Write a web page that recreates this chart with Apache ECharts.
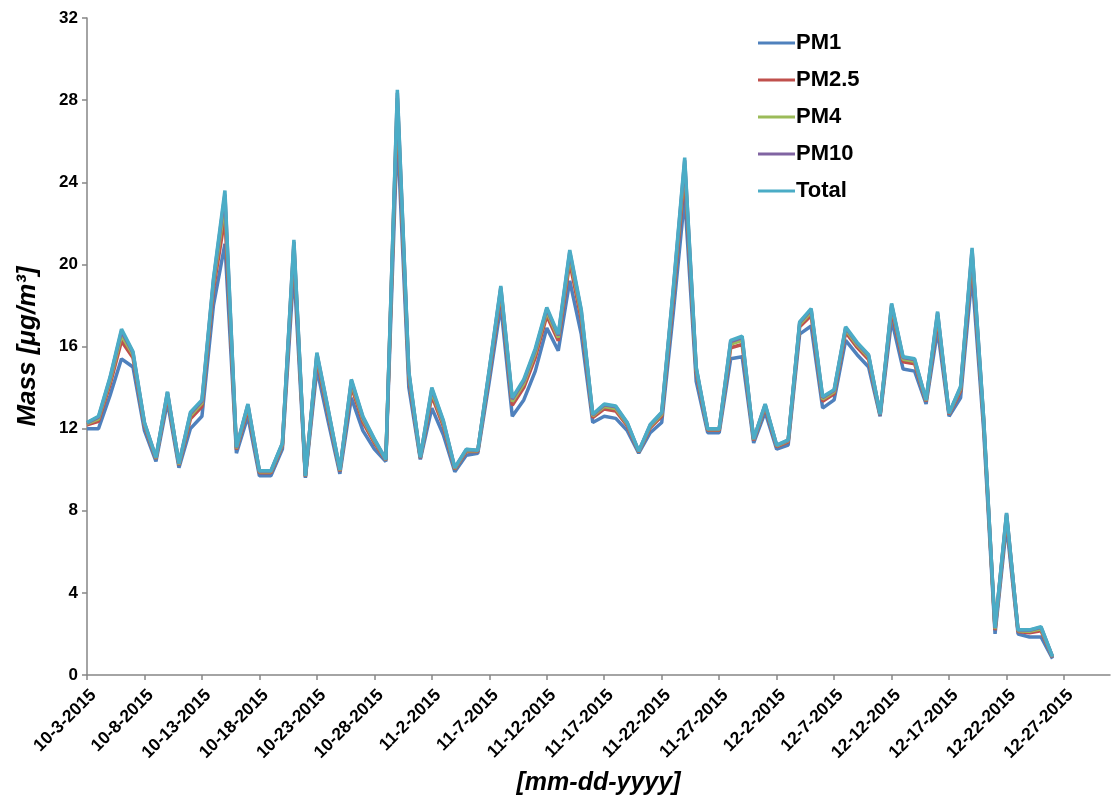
<!DOCTYPE html>
<html>
<head>
<meta charset="utf-8">
<script src="https://cdn.jsdelivr.net/npm/echarts@6/dist/echarts.min.js"></script>
<style>
html,body{margin:0;padding:0;background:#fff;}
#chart{width:1112px;height:798px;}
</style>
</head>
<body>
<div id="chart"></div>
<script>
// Categories: daily dates (axis runs to 12-31-2015; data ends 12-26-2015)
var dates = [
"10-3-2015","10-4-2015","10-5-2015","10-6-2015","10-7-2015","10-8-2015","10-9-2015","10-10-2015","10-11-2015","10-12-2015",
"10-13-2015","10-14-2015","10-15-2015","10-16-2015","10-17-2015","10-18-2015","10-19-2015","10-20-2015","10-21-2015","10-22-2015",
"10-23-2015","10-24-2015","10-25-2015","10-26-2015","10-27-2015","10-28-2015","10-29-2015","10-30-2015","10-31-2015",
"11-1-2015","11-2-2015","11-3-2015","11-4-2015","11-5-2015","11-6-2015","11-7-2015","11-8-2015","11-9-2015","11-10-2015",
"11-11-2015","11-12-2015","11-13-2015","11-14-2015","11-15-2015","11-16-2015","11-17-2015","11-18-2015","11-19-2015","11-20-2015",
"11-21-2015","11-22-2015","11-23-2015","11-24-2015","11-25-2015","11-26-2015","11-27-2015","11-28-2015","11-29-2015","11-30-2015",
"12-1-2015","12-2-2015","12-3-2015","12-4-2015","12-5-2015","12-6-2015","12-7-2015","12-8-2015","12-9-2015","12-10-2015",
"12-11-2015","12-12-2015","12-13-2015","12-14-2015","12-15-2015","12-16-2015","12-17-2015","12-18-2015","12-19-2015","12-20-2015",
"12-21-2015","12-22-2015","12-23-2015","12-24-2015","12-25-2015","12-26-2015","12-27-2015","12-28-2015","12-29-2015","12-30-2015",
"12-31-2015"
];

var pm1 = [
12.0,12.0,13.6,15.4,15.0,11.9,10.4,13.3,10.1,12.0,
12.6,18.0,21.0,10.8,12.6,9.7,9.7,11.0,19.8,9.6,
14.9,12.3,9.8,13.5,11.9,11.0,10.4,26.5,14.0,10.5,
13.0,11.7,9.9,10.7,10.8,14.3,18.0,12.6,13.4,14.8,
16.9,15.8,19.2,16.6,12.3,12.6,12.5,11.9,10.8,11.8,
12.3,17.6,23.3,14.3,11.8,11.8,15.4,15.5,11.3,12.8,
11.0,11.2,16.6,17.0,13.0,13.4,16.3,15.6,15.0,12.6,
17.3,14.9,14.8,13.2,16.8,12.6,13.5,19.5,12.0,2.0,
7.3,2.0,1.85,1.85,0.8
];

var pm25 = [
12.18,12.36,14.14,16.27,15.45,12.14,10.52,13.6,10.22,12.48,
13.08,18.78,22.3,10.98,12.96,9.85,9.85,11.18,20.64,9.66,
15.38,12.66,9.92,14.04,12.32,11.3,10.46,27.7,14.48,10.56,
13.6,12.12,10.02,10.88,10.89,14.66,18.57,13.14,14.0,15.46,
17.5,16.28,20.1,17.32,12.54,12.96,12.86,12.14,10.86,12.04,
12.6,18.32,24.44,14.72,11.92,11.92,15.94,16.1,11.42,13.04,
11.12,11.35,16.96,17.51,13.33,13.7,16.7,15.96,15.36,12.66,
17.78,15.26,15.16,13.32,17.34,12.69,13.83,20.28,12.36,2.18,
7.66,2.12,2.06,2.15,0.86
];

var pm4 = [
12.24,12.48,14.32,16.56,15.6,12.22,10.56,13.7,10.26,12.64,
13.24,19.04,23.0,11.04,13.08,9.9,9.9,11.24,20.92,9.68,
15.54,12.78,9.96,14.22,12.46,11.4,10.48,28.1,14.64,10.58,
13.8,12.26,10.06,10.94,10.92,14.78,18.76,13.32,14.2,15.68,
17.7,16.44,20.4,17.56,12.62,13.08,12.98,12.22,10.88,12.12,
12.7,18.56,24.82,14.86,11.96,11.96,16.12,16.3,11.46,13.12,
11.16,11.4,17.08,17.68,13.44,13.8,16.83,16.08,15.48,12.68,
17.94,15.38,15.28,13.36,17.52,12.72,13.94,20.54,12.48,2.24,
7.78,2.16,2.13,2.25,0.88
];

var pm10 = [
12.28,12.56,14.44,16.75,15.7,12.27,10.59,13.77,10.29,12.74,
13.34,19.21,23.4,11.08,13.16,9.93,9.93,11.28,21.1,9.69,
15.64,12.86,9.99,14.34,12.55,11.47,10.49,28.36,14.74,10.59,
13.93,12.35,10.09,10.98,10.94,14.86,18.88,13.44,14.33,15.82,
17.83,16.54,20.6,17.72,12.67,13.16,13.06,12.27,10.89,12.17,
12.77,18.72,25.07,14.95,11.99,11.99,16.24,16.43,11.49,13.17,
11.19,11.43,17.16,17.79,13.51,13.87,16.91,16.16,15.56,12.69,
18.04,15.46,15.36,13.39,17.64,12.74,14.01,20.71,12.56,2.28,
7.86,2.19,2.18,2.32,0.89
];

var total = [
12.3,12.6,14.5,16.85,15.75,12.3,10.6,13.8,10.3,12.8,
13.4,19.3,23.6,11.1,13.2,9.95,9.95,11.3,21.2,9.7,
15.7,12.9,10.0,14.4,12.6,11.5,10.5,28.5,14.8,10.6,
14.0,12.4,10.1,11.0,10.95,14.9,18.95,13.5,14.4,15.9,
17.9,16.6,20.7,17.8,12.7,13.2,13.1,12.3,10.9,12.2,
12.8,18.8,25.2,15.0,12.0,12.0,16.3,16.5,11.5,13.2,
11.2,11.45,17.2,17.85,13.55,13.9,16.96,16.2,15.6,12.7,
18.1,15.5,15.4,13.4,17.7,12.75,14.05,20.8,12.6,2.3,
7.9,2.2,2.2,2.35,0.9
];

var seriesNames = ["PM1","PM2.5","PM4","PM10","Total"];
var seriesData = [pm1, pm25, pm4, pm10, total];
var seriesColors = ["#4F81BD","#C0504D","#9BBB59","#8064A2","#4BACC6"];
var yTicks = [0,4,8,12,16,20,24,28,32];

var FONT = "'Liberation Sans', Arial, sans-serif";
var chart = echarts.init(document.getElementById('chart'), null, {renderer:'canvas'});

var series = seriesNames.map(function(n,i){
  return {
    name:n, type:'line', data:seriesData[i], showSymbol:false, symbol:'none',
    lineStyle:{width:3.5, color:seriesColors[i]}, itemStyle:{color:seriesColors[i]},
    animation:false
  };
});

chart.setOption({
  animation:false,
  backgroundColor:'#ffffff',
  grid:{left:87, top:18, width:1023, height:657, containLabel:false, outerBoundsMode:'none'},
  legend:{
    orient:'vertical', left:753, top:27, itemGap:15,
    icon:'rect', itemWidth:37, itemHeight:3,
    textStyle:{fontFamily:FONT, fontWeight:'bold', fontSize:22, color:'#000', lineHeight:22, padding:[0,0,0,-4]},
    data:seriesNames
  },
  xAxis:{
    type:'category', data:dates, boundaryGap:false,
    name:'[mm-dd-yyyy]', nameLocation:'middle', nameGap:96,
    nameTextStyle:{fontFamily:FONT, fontWeight:'bold', fontStyle:'italic', fontSize:25, color:'#000'},
    axisLine:{lineStyle:{color:'#868686', width:1.5}},
    axisTick:{show:true, interval:4, length:5, lineStyle:{color:'#868686', width:1.5}},
    axisLabel:{interval:4, rotate:45, margin:11, verticalAlign:'top', fontFamily:FONT, fontWeight:'bold', fontSize:17.5, color:'#000'},
    splitLine:{show:false}
  },
  yAxis:{
    type:'value', min:0, max:32, interval:4,
    name:'Mass [\u03bcg/m\u00b3]', nameLocation:'middle', nameGap:46, nameRotate:90,
    nameTextStyle:{fontFamily:FONT, fontWeight:'bold', fontStyle:'italic', fontSize:26, color:'#000'},
    axisLine:{show:true, lineStyle:{color:'#868686', width:1.5}},
    axisTick:{show:true, length:5, lineStyle:{color:'#868686', width:1.5}},
    axisLabel:{margin:9, fontFamily:FONT, fontWeight:'bold', fontSize:17, color:'#000',
      formatter:function(v){ return yTicks.indexOf(v) >= 0 ? String(v) : ''; }},
    splitLine:{show:false}
  },
  series:series
});
</script>
</body>
</html>
